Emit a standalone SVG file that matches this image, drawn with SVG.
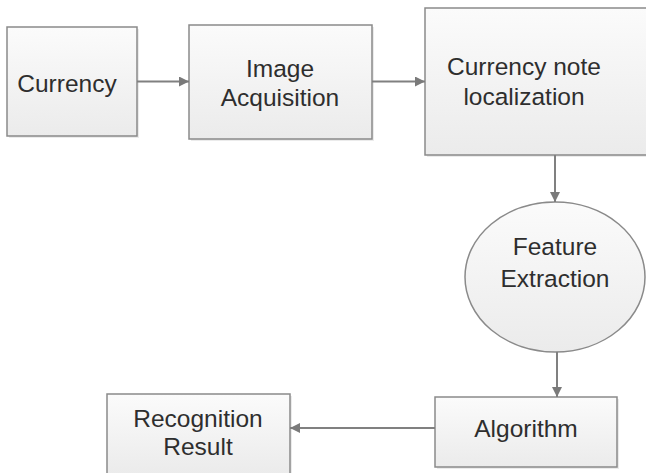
<svg xmlns="http://www.w3.org/2000/svg" width="646" height="473" viewBox="0 0 646 473">
  <defs>
    <linearGradient id="fillGrad" x1="0" y1="0" x2="0" y2="1">
      <stop offset="0" stop-color="#fbfbfb"/>
      <stop offset="1" stop-color="#ebebeb"/>
    </linearGradient>
    <marker id="arrow" viewBox="0 0 10 10" refX="10" refY="5" markerWidth="5" markerHeight="5" orient="auto" markerUnits="strokeWidth">
      <path d="M0,0 L10,5 L0,10 z" fill="#7a7a7a"/>
    </marker>
  </defs>
  <style>
    .shape { fill: url(#fillGrad); stroke: #8a8a8a; stroke-width: 1.5; }
    .shadow { fill: #000; opacity: 0.08; }
    .label { font-family: "Liberation Sans", Arial, sans-serif; font-size: 24.5px; fill: #2e2e2e; text-anchor: middle; }
    .conn { stroke: #808080; stroke-width: 2; fill: none; marker-end: url(#arrow); }
  </style>
  <rect width="646" height="473" fill="#ffffff"/>

  <g id="node-currency">
    <rect class="shadow" x="9" y="29" width="130" height="109"/>
    <rect class="shape" x="7" y="27" width="130" height="109"/>
    <text class="label" x="67" y="92">Currency</text>
  </g>

  <g id="node-image-acquisition">
    <rect class="shadow" x="191" y="27" width="183" height="114"/>
    <rect class="shape" x="189" y="25" width="183" height="114"/>
    <text class="label" x="280" y="77">Image</text>
    <text class="label" x="280" y="106">Acquisition</text>
  </g>

  <g id="node-localization">
    <rect class="shadow" x="427" y="10" width="240" height="147"/>
    <rect class="shape" x="425" y="8" width="240" height="147"/>
    <text class="label" x="524" y="75">Currency note</text>
    <text class="label" x="524" y="105">localization</text>
  </g>

  <g id="node-feature-extraction">
    <ellipse class="shape" cx="555" cy="277" rx="90" ry="75"/>
    <text class="label" x="555" y="255">Feature</text>
    <text class="label" x="555" y="287">Extraction</text>
  </g>

  <g id="node-algorithm">
    <rect class="shadow" x="437" y="399" width="182" height="70"/>
    <rect class="shape" x="435" y="397" width="182" height="70"/>
    <text class="label" x="526" y="437">Algorithm</text>
  </g>

  <g id="node-recognition-result">
    <rect class="shadow" x="109" y="396" width="183" height="80"/>
    <rect class="shape" x="107" y="394" width="183" height="80"/>
    <text class="label" x="198" y="427">Recognition</text>
    <text class="label" x="198" y="455">Result</text>
  </g>

  <g id="connectors">
    <line class="conn" x1="137" y1="81.5" x2="189" y2="81.5"/>
    <line class="conn" x1="372" y1="81.5" x2="425" y2="81.5"/>
    <line class="conn" x1="555" y1="155" x2="555" y2="202"/>
    <line class="conn" x1="557" y1="352" x2="557" y2="397"/>
    <line class="conn" x1="435" y1="428" x2="290" y2="428"/>
  </g>
</svg>
